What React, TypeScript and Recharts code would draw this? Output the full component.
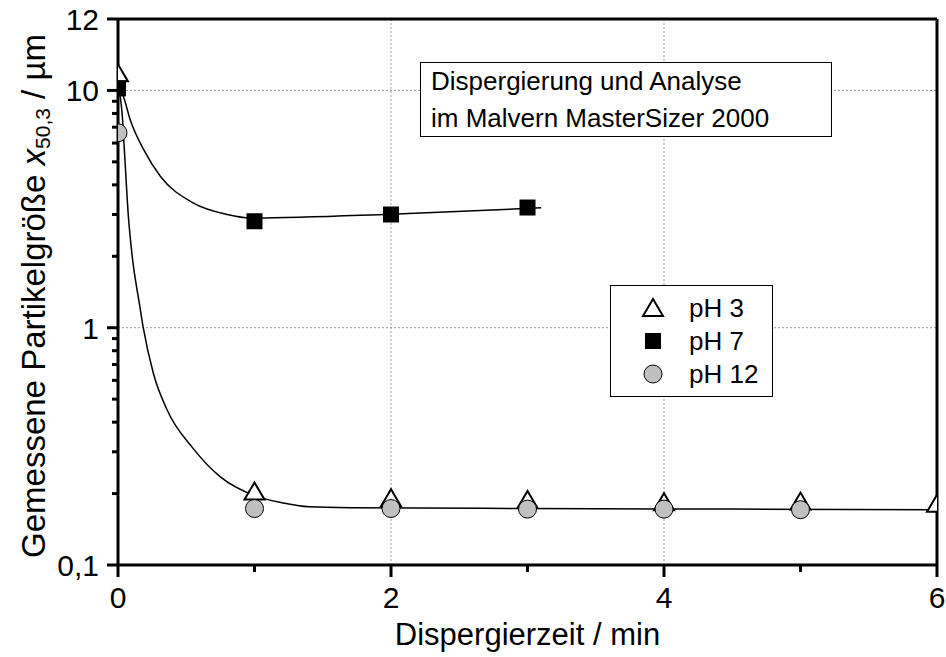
import React from "react";
import {
  ComposedChart,
  XAxis,
  YAxis,
  Scatter,
  Line,
  ReferenceLine,
  Legend,
} from "recharts";

// Dispergierzeit / min
const times = [0, 1, 2, 3, 4, 5, 6];
const ph3Sizes = [11.8, 0.204, 0.191, 0.188, 0.184, 0.185, 0.181];

const ph7Times = [0, 1, 2, 3];
const ph7Sizes = [10.2, 2.81, 3.0, 3.21];

const ph12Times = [0, 1, 2, 3, 4, 5];
const ph12Sizes = [6.63, 0.173, 0.173, 0.172, 0.172, 0.171];

// fitted curves
const fitLowTimes = [0, 0.03, 0.05, 0.075, 0.1, 0.16, 0.185, 0.26, 0.36, 0.55, 0.75, 1.0, 1.2, 1.4, 1.7, 3, 4.5, 6];
const fitLowSizes = [10.5, 8.0, 5.2, 3.0, 2.1, 1.23, 1.0, 0.64, 0.45, 0.31, 0.235, 0.196, 0.183, 0.176, 0.1745, 0.173, 0.172, 0.171];

const fitHighTimes = [0, 0.04, 0.09, 0.19, 0.31, 0.55, 0.8, 0.97, 2, 3.1];
const fitHighSizes = [10.3, 9.4, 7.5, 5.6, 4.35, 3.36, 3.0, 2.9, 3.01, 3.2];

// axis ticks
const timeDomain = [0, 6];
const timeTicks = [0, 1, 2, 3, 4, 5, 6];
const timeLabels = ["0", "", "2", "", "4", "", "6"];
const sizeDomain = [0.1, 20];
const sizeTicks = [
  0.1, 0.2, 0.3, 0.4, 0.5, 0.6, 0.7, 0.8, 0.9,
  1, 2, 3, 4, 5, 6, 7, 8, 9,
  10, 20,
];
const sizeMajor = [0.1, 1, 10, 20];
const sizeLabels = ["0,1", "1", "10", "12"];

const legendNames = ["pH 3", "pH 7", "pH 12"];

const FONT = "'Liberation Sans', Arial, sans-serif";
const PLOT_CLIP = "plot-x-range";

const rows = (xs: number[], ys: number[]) => xs.map((x, i) => ({ x, y: ys[i] }));

const ph3Rows = rows(times, ph3Sizes);
const ph7Rows = rows(ph7Times, ph7Sizes);
const ph12Rows = rows(ph12Times, ph12Sizes);
const fitLowRows = rows(fitLowTimes, fitLowSizes);
const fitHighRows = rows(fitHighTimes, fitHighSizes);

function Triangle({ cx, cy }: any) {
  return (
    <polygon
      points={`${cx},${cy - 9} ${cx - 10},${cy + 8} ${cx + 10},${cy + 8}`}
      fill="#fff"
      stroke="#000"
      strokeWidth={2}
    />
  );
}

function Square({ cx, cy }: any) {
  return <rect x={cx - 8} y={cy - 8} width={16} height={16} fill="#000" />;
}

function Circle({ cx, cy }: any) {
  return <circle cx={cx} cy={cy} r={9} fill="#c0c0c0" stroke="#000" strokeWidth={1} />;
}

const markers = [Triangle, Square, Circle];

// symbols on the frame are cut by the plot edges
function clipped(Marker: any) {
  return (props: any) => (
    <g clipPath={`url(#${PLOT_CLIP})`}>
      <Marker cx={props.cx} cy={props.cy} />
    </g>
  );
}

function TimeTick({ x, y, payload }: any) {
  const i = timeTicks.indexOf(payload.value);
  const label = timeLabels[i];
  const len = label ? 12 : 7;
  return (
    <g>
      <line x1={x} x2={x} y1={y} y2={y + len} stroke="#000" strokeWidth={3} />
      {label && (
        <text x={x} y={y + 43} textAnchor="middle" fontSize={30} fontFamily={FONT} fill="#000">
          {label}
        </text>
      )}
    </g>
  );
}

function SizeTick({ x, y, payload }: any) {
  const i = sizeMajor.indexOf(payload.value);
  const len = i >= 0 ? 11 : 6;
  return (
    <g>
      <line x1={x - len} x2={x} y1={y} y2={y} stroke="#000" strokeWidth={3} />
      {i >= 0 && (
        <text x={x - 19} y={y + 11} textAnchor="end" fontSize={30} fontFamily={FONT} fill="#000">
          {sizeLabels[i]}
        </text>
      )}
    </g>
  );
}

// the x-axis title also defines the horizontal clip used by the symbols
function XTitle({ viewBox }: any) {
  return (
    <g>
      <clipPath id={PLOT_CLIP}>
        <rect x={viewBox.x} y={0} width={viewBox.width} height={viewBox.y} />
      </clipPath>
      <text
        x={viewBox.x + viewBox.width / 2}
        y={viewBox.y + 80}
        textAnchor="middle"
        fontSize={31}
        fontFamily={FONT}
        fill="#000"
      >
        Dispergierzeit / min
      </text>
    </g>
  );
}

function YTitle({ viewBox }: any) {
  const cx = viewBox.x + viewBox.width - 85;
  const cy = viewBox.y + viewBox.height / 2 + 4;
  return (
    <text
      x={cx}
      y={cy}
      transform={`rotate(-90, ${cx}, ${cy})`}
      textAnchor="middle"
      dominantBaseline="central"
      fontSize={33}
      fontFamily={FONT}
      fill="#000"
    >
      {"Gemessene Partikelgröße "}
      <tspan fontStyle="italic">x</tspan>
      <tspan fontSize={21} dy={9}>50,3</tspan>
      <tspan dy={-9}>{" / µm"}</tspan>
    </text>
  );
}

function LegendBox() {
  return (
    <div
      style={{
        position: "relative",
        width: 163,
        height: 112,
        boxSizing: "border-box",
        border: "1.5px solid #000",
        background: "#fff",
        fontFamily: FONT,
        fontSize: 26,
      }}
    >
      {legendNames.map((name, i) => {
        const Marker = markers[i];
        return (
          <div
            key={name}
            style={{ position: "absolute", left: 0, top: 5 + i * 33, height: 34, display: "flex", alignItems: "center" }}
          >
            <svg width={24} height={24} style={{ marginLeft: 30 }}>
              <Marker cx={12} cy={12} />
            </svg>
            <span style={{ marginLeft: 24, lineHeight: "34px" }}>{name}</span>
          </div>
        );
      })}
    </div>
  );
}

export default function App() {
  const grid = { stroke: "#999", strokeDasharray: "2 2", strokeWidth: 1 };
  const frame = { stroke: "#000", strokeWidth: 3 };
  return (
    <div
      style={{
        position: "absolute",
        left: 0,
        top: 0,
        width: 946,
        height: 657,
        background: "#fff",
        fontFamily: FONT,
      }}
    >
      <ComposedChart width={946} height={657} margin={{ top: 18, right: 8, bottom: 91, left: 117 }}>
        <XAxis
          type="number"
          dataKey="x"
          domain={timeDomain}
          ticks={timeTicks}
          interval={0}
          allowDataOverflow
          height={1}
          tickSize={0}
          tickMargin={0}
          tick={<TimeTick />}
          axisLine={frame}
          label={{ content: <XTitle /> }}
        />
        <YAxis
          type="number"
          dataKey="y"
          scale="log"
          domain={sizeDomain}
          ticks={sizeTicks}
          interval={0}
          allowDataOverflow
          width={1}
          tickSize={0}
          tickMargin={0}
          tick={<SizeTick />}
          axisLine={frame}
          label={{ content: <YTitle /> }}
        />
        <XAxis
          xAxisId="top"
          orientation="top"
          type="number"
          domain={timeDomain}
          height={1}
          tick={false}
          tickLine={false}
          axisLine={frame}
        />
        <YAxis
          yAxisId="right"
          orientation="right"
          type="number"
          domain={[0, 1]}
          width={1}
          tick={false}
          tickLine={false}
          axisLine={frame}
        />

        <ReferenceLine x={2} {...grid} />
        <ReferenceLine x={4} {...grid} />
        <ReferenceLine y={1} {...grid} />
        <ReferenceLine y={10} {...grid} />

        <Scatter name="pH 3" data={ph3Rows} shape={clipped(Triangle)} isAnimationActive={false} />
        <Scatter name="pH 7" data={ph7Rows} shape={clipped(Square)} isAnimationActive={false} />
        <Scatter name="pH 12" data={ph12Rows} shape={clipped(Circle)} isAnimationActive={false} />

        <Line data={fitLowRows} dataKey="y" type="monotone" stroke="#000" strokeWidth={1.5} dot={false} activeDot={false} isAnimationActive={false} />
        <Line data={fitHighRows} dataKey="y" type="monotone" stroke="#000" strokeWidth={1.5} dot={false} activeDot={false} isAnimationActive={false} />

        <Legend
          layout="vertical"
          align="center"
          verticalAlign="middle"
          wrapperStyle={{ left: 610, top: 285, width: 163, height: 112 }}
          content={<LegendBox />}
        />
      </ComposedChart>

      <div
        style={{
          position: "absolute",
          left: 420,
          top: 62,
          width: 412,
          height: 75,
          boxSizing: "border-box",
          border: "1.5px solid #000",
          background: "#fff",
          padding: "0 0 0 10px",
          fontSize: 26,
          lineHeight: "37px",
          color: "#000",
        }}
      >
        Dispergierung und Analyse
        <br />
        im Malvern MasterSizer 2000
      </div>
    </div>
  );
}
